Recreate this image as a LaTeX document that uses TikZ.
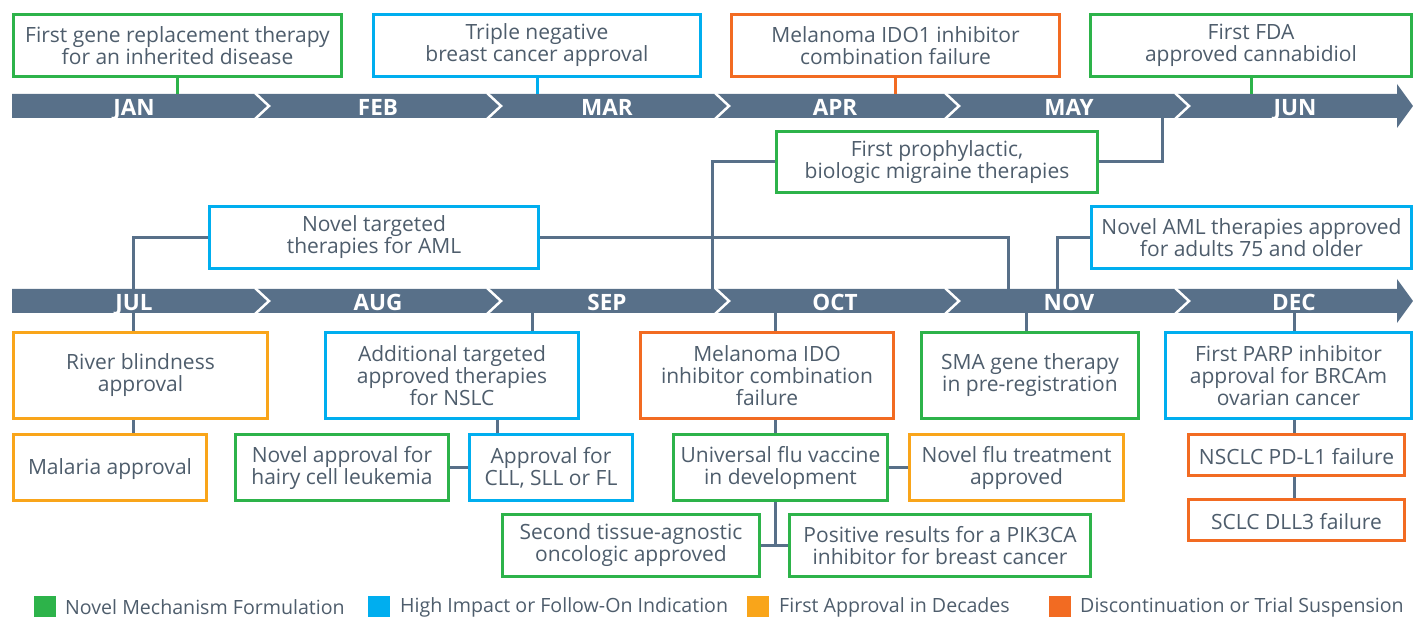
\documentclass[tikz,border=0pt]{standalone}
\usepackage{fontspec}
\setmainfont{Open Sans}
\definecolor{gr}{HTML}{2DB34A}
\definecolor{bl}{HTML}{00AEEF}
\definecolor{am}{HTML}{F9A51A}
\definecolor{ro}{HTML}{F26B22}
\definecolor{slate}{HTML}{587089}
\definecolor{txt}{HTML}{4E5D6C}
\tikzset{
  box/.style={draw, line width=3.5pt, fill=white, align=center, text=txt, inner sep=0pt,
    font=\fontsize{21}{22}\selectfont, execute at begin node={\rule{0pt}{19pt}}},
  conn/.style={draw=slate, line width=3pt},
  month/.style={text=white, anchor=base, inner sep=0pt, font=\fontsize{22.5}{22}\selectfont\bfseries},
  chev/.style={draw=white, line width=2.5pt},
  legsq/.style={draw=none, inner sep=0pt, minimum width=22pt, minimum height=21pt},
  legtext/.style={text=txt, anchor=west, inner sep=0pt, font=\fontsize{19.6}{22}\selectfont}
}
\begin{document}
\begin{tikzpicture}[x=1pt,y=-1pt]
\useasboundingbox (0,0) rectangle (1413,617);
% timeline bars
\fill[slate] (12,94) -- (1397,94) -- (1397,84) -- (1413,106) -- (1397,128) -- (1397,118) -- (12,118) -- cycle;
\fill[slate] (12,289) -- (1397,289) -- (1397,279) -- (1413,301) -- (1397,323) -- (1397,313) -- (12,313) -- cycle;
\foreach \x in {255,487,715,945,1175}{
  \draw[chev] (\x,93) -- (\x+14,106) -- (\x,119);
  \draw[chev] (\x,288) -- (\x+14,301) -- (\x,314);
}

% connector anchor coordinates
\coordinate (bar1top) at (0,94);
\coordinate (bar1bot) at (0,118);
\coordinate (bar2top) at (0,289);
\coordinate (bar2bot) at (0,313);
\coordinate (mayR) at (1162,118);
\coordinate (octL) at (712,289);
\coordinate (julX) at (133,0);
\coordinate (novA) at (1008,289);
\coordinate (novB) at (1057,289);
\coordinate (sepX) at (532,0);
\coordinate (cllX) at (497,0);
\coordinate (octX) at (775,0);
\coordinate (novX) at (1026,0);
\coordinate (decX) at (1294,0);

% boxes
\node[box, draw=gr, minimum width=328pt, minimum height=62pt] (b1) at (177.5,45.5) {First gene replacement therapy\\for an inherited disease};
\node[box, draw=bl, minimum width=327pt, minimum height=62pt] (b2) at (537,45.5) {Triple negative\\breast cancer approval};
\node[box, draw=ro, minimum width=328pt, minimum height=62pt] (b3) at (895.5,45.5) {Melanoma IDO1 inhibitor\\combination failure};
\node[box, draw=gr, minimum width=321pt, minimum height=62pt] (b4) at (1251,45.5) {First FDA\\approved cannabidiol};
\node[box, draw=gr, minimum width=321pt, minimum height=61pt] (pro) at (937,162) {First prophylactic,\\biologic migraine therapies};
\node[box, draw=bl, minimum width=329pt, minimum height=62pt] (aml) at (374,237.5) {Novel targeted\\therapies for AML};
\node[box, draw=bl, minimum width=320pt, minimum height=62pt] (aml75) at (1251.5,237.5) {Novel AML therapies approved\\for adults 75 and older};

\node[box, draw=am, minimum width=254pt, minimum height=86pt] (riv) at (140.5,375.5) {River blindness\\approval};
\node[box, draw=bl, minimum width=253pt, minimum height=86pt] (add) at (452,375.5) {Additional targeted\\approved therapies\\for NSLC};
\node[box, draw=ro, minimum width=253pt, minimum height=86pt] (mel) at (767,375.5) {Melanoma IDO\\inhibitor combination\\failure};
\node[box, draw=gr, minimum width=217pt, minimum height=86pt] (sma) at (1030,375.5) {SMA gene therapy\\in pre-registration};
\node[box, draw=bl, minimum width=246pt, minimum height=86pt] (parp) at (1288.5,375.5) {First PARP inhibitor\\approval for BRCAm\\ovarian cancer};

\node[box, draw=am, minimum width=193pt, minimum height=66pt] (mal) at (110,467.5) {Malaria approval};
\node[box, draw=gr, minimum width=213pt, minimum height=66pt] (hairy) at (342,467.5) {Novel approval for\\hairy cell leukemia};
\node[box, draw=bl, minimum width=163pt, minimum height=66pt] (cll) at (551,467.5) {Approval for\\CLL, SLL or FL};
\node[box, draw=gr, minimum width=214pt, minimum height=66pt] (uni) at (780.5,467.5) {Universal flu vaccine\\in development};
\node[box, draw=am, minimum width=214pt, minimum height=66pt] (flu) at (1016.5,467.5) {Novel flu treatment\\approved};
\node[box, draw=ro, minimum width=216pt, minimum height=41pt] (ns) at (1296.5,455) {NSCLC PD-L1 failure};
\node[box, draw=ro, minimum width=216pt, minimum height=41pt] (sc) at (1296.5,520) {SCLC DLL3 failure};
\node[box, draw=gr, minimum width=257pt, minimum height=62pt] (sec) at (631,545.5) {Second tissue-agnostic\\oncologic approved};
\node[box, draw=gr, minimum width=301pt, minimum height=62pt] (pos) at (940,545.5) {Positive results for a PIK3CA\\inhibitor for breast cancer};

% connectors
\draw[conn, draw=gr] (b1.south) -- (b1.south |- bar1top);
\draw[conn, draw=bl] (b2.south) -- (b2.south |- bar1top);
\draw[conn, draw=ro] (b3.south) -- (b3.south |- bar1top);
\draw[conn, draw=gr] (b4.south) -- (b4.south |- bar1top);
\draw[conn] (pro.east) -| (mayR);
\draw[conn] (pro.west) -| (octL);
\draw[conn] (aml.west) -| (riv.north -| julX);
\draw[conn] (riv.south -| julX) -- (mal.north -| julX);
\draw[conn] (aml.east) -| (novA);
\draw[conn] (aml75.west) -| (novB);
\draw[conn] (sepX |- bar2bot) -- (sepX |- add.north);
\draw[conn] (cllX |- add.south) -- (cllX |- cll.north);
\draw[conn] (hairy.east) -- (cll.west);
\draw[conn] (octX |- bar2bot) -- (octX |- mel.north);
\draw[conn] (octX |- mel.south) -- (octX |- uni.north);
\draw[conn] (uni.east) -- (flu.west);
\draw[conn] (octX |- uni.south) -- (octX |- sec.east);
\draw[conn] (sec.east) -- (pos.west);
\draw[conn] (novX |- bar2bot) -- (novX |- sma.north);
\draw[conn] (decX |- bar2bot) -- (decX |- parp.north);
\draw[conn] (decX |- parp.south) -- (decX |- ns.north);
\draw[conn] (decX |- ns.south) -- (decX |- sc.north);

% month labels (on top of connectors)
\node[month] (jan) at (134,115.5) {JAN};
\node[month] (feb) at (378,115.5) {FEB};
\node[month] (mar) at (607,115.5) {MAR};
\node[month] (apr) at (835,115.5) {APR};
\node[month] (may) at (1069,115.5) {MAY};
\node[month] (jun) at (1295,115.5) {JUN};
\node[month] (jul) at (134,310.5) {JUL};
\node[month] (aug) at (378,310.5) {AUG};
\node[month] (sep) at (607,310.5) {SEP};
\node[month] (oct) at (835,310.5) {OCT};
\node[month] (nov) at (1069,310.5) {NOV};
\node[month] (dec) at (1294,310.5) {DEC};

% legend
\node[legsq, fill=gr] (lg1) at (44.5,606.5) {};
\node[legtext] (lt1) at (65,607) {Novel Mechanism Formulation};
\node[legsq, fill=bl] (lg2) at (379,606.5) {};
\node[legtext] (lt2) at (400,607) {High Impact or Follow-On Indication};
\node[legsq, fill=am] (lg3) at (758,606.5) {};
\node[legtext] (lt3) at (779,607) {First Approval in Decades};
\node[legsq, fill=ro] (lg4) at (1059.5,606.5) {};
\node[legtext] (lt4) at (1080,607) {Discontinuation or Trial Suspension};
\end{tikzpicture}
\end{document}
